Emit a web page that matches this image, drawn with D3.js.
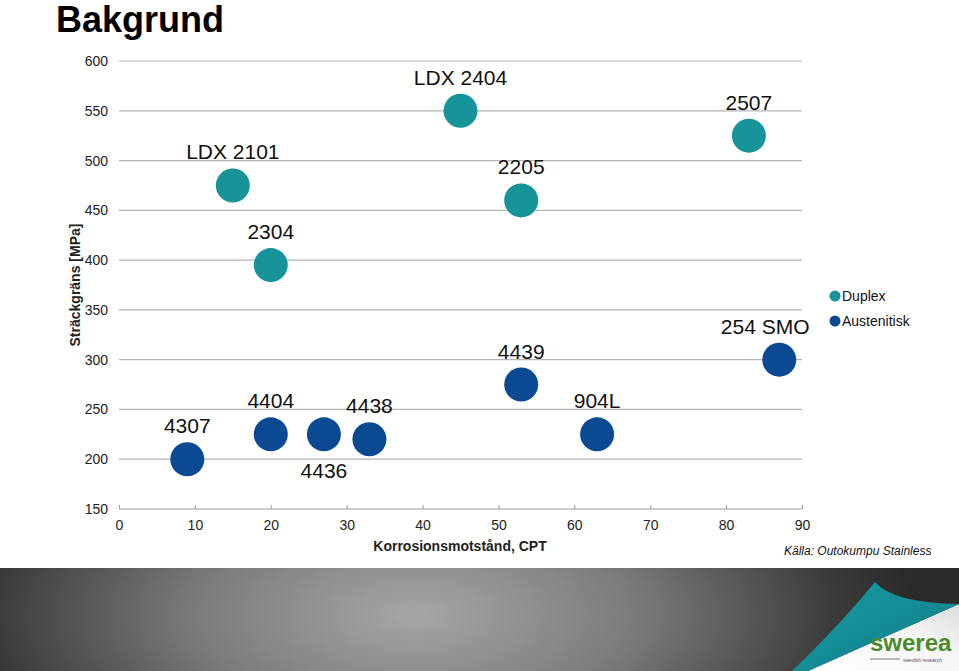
<!DOCTYPE html>
<html><head><meta charset="utf-8">
<script src="https://cdn.jsdelivr.net/npm/d3@7"></script>
<style>
html,body{margin:0;padding:0;background:#fff;}
svg{display:block;font-family:"Liberation Sans",Arial,sans-serif;}
</style></head>
<body>
<svg id="c" width="959" height="671"></svg>
<script>
// ---- data ----
const duplexNames = ["LDX 2101","2304","LDX 2404","2205","2507"];
const duplexCPT   = [15, 20, 45, 53, 83];
const duplexYield = [475, 395, 550, 460, 525];

const austNames = ["4307","4404","4436","4438","4439","904L","254 SMO"];
const austCPT   = [9, 20, 27, 33, 53, 63, 87];
const austYield = [200, 225, 225, 220, 275, 225, 300];
// label placement: above / below
const austLabelPos = ["above","above","below","above","above","above","above"];

const xTicks = [0,10,20,30,40,50,60,70,80,90];
const yTicks = [150,200,250,300,350,400,450,500,550,600];
const seriesNames = ["Duplex","Austenitisk"];
const colors = {"Duplex":"#17939a","Austenitisk":"#0b4a93"};

const svg = d3.select("#c");
const x = d3.scaleLinear().domain([0,90]).range([119,802]);
const y = d3.scaleLinear().domain([150,600]).range([509,61]);

// banner gradient
const defs = svg.append("defs");
const rg = defs.append("radialGradient").attr("id","bg")
  .attr("gradientUnits","userSpaceOnUse")
  .attr("cx",0).attr("cy",0).attr("r",500)
  .attr("gradientTransform","translate(415,615) scale(1,0.45)");
rg.append("stop").attr("offset",0).attr("stop-color","#a6a6a6");
rg.append("stop").attr("offset",0.45).attr("stop-color","#7a7a7a");
rg.append("stop").attr("offset",0.85).attr("stop-color","#3a3a3a");
rg.append("stop").attr("offset",1).attr("stop-color","#2b2b2b");
const tg = defs.append("linearGradient").attr("id","tg").attr("x1",0).attr("y1",0).attr("x2",1).attr("y2",1);
tg.append("stop").attr("offset",0).attr("stop-color","#1a9aa3");
tg.append("stop").attr("offset",1).attr("stop-color","#0f7f88");
const wg = defs.append("linearGradient").attr("id","wg").attr("x1",0).attr("y1",1).attr("x2",1).attr("y2",0);
wg.append("stop").attr("offset",0).attr("stop-color","#ffffff");
wg.append("stop").attr("offset",0.6).attr("stop-color","#f6f6f6");
wg.append("stop").attr("offset",1).attr("stop-color","#dcdcdc");

// title
svg.append("text").attr("x",56).attr("y",32).attr("font-size",36).attr("font-weight","bold")
  .attr("fill","#000").text("Bakgrund");

// gridlines
svg.append("g").selectAll("line").data(yTicks.filter(d=>d>150)).join("line")
  .attr("x1",x(0)).attr("x2",x(90)).attr("y1",d=>y(d)).attr("y2",d=>y(d))
  .attr("stroke","#b4b4b4").attr("stroke-width",1.2);

// y axis labels
const yAxis = d3.axisLeft(y).tickValues(yTicks).tickSize(0).tickPadding(11);
const gy = svg.append("g").attr("transform",`translate(${x(0)},0)`).call(yAxis);
gy.select(".domain").remove();
gy.selectAll("text").attr("font-size",14).attr("fill","#222").attr("font-family","Liberation Sans,Arial,sans-serif");

// x axis (line at 150 with ticks pointing up)
const xAxis = d3.axisTop(x).tickValues(xTicks).tickSize(4).tickFormat("");
const gx = svg.append("g").attr("transform",`translate(0,${y(150)})`).call(xAxis);
gx.select(".domain").attr("stroke","#9a9a9a").attr("stroke-width",1.2).attr("d",`M${x(0)},0H${x(90)}`);
gx.selectAll(".tick line").attr("stroke","#9a9a9a");
const xLab = d3.axisBottom(x).tickValues(xTicks).tickSize(0).tickPadding(11);
const gxl = svg.append("g").attr("transform",`translate(0,${y(150)})`).call(xLab);
gxl.select(".domain").remove();
gxl.selectAll("text").attr("font-size",14).attr("fill","#222").attr("font-family","Liberation Sans,Arial,sans-serif");

// axis titles
svg.append("text").attr("x",460).attr("y",551).attr("text-anchor","middle")
  .attr("font-size",14).attr("font-weight","bold").attr("fill","#222").text("Korrosionsmotstånd, CPT");
svg.append("text").attr("transform","translate(80,285) rotate(-90)").attr("text-anchor","middle")
  .attr("font-size",14).attr("font-weight","bold").attr("fill","#222").text("Sträckgräns [MPa]");

// points
const R = 17;
const duplex = duplexNames.map((n,i)=>({n, cx:duplexCPT[i], cy:duplexYield[i], pos:"above"}));
const aust = austNames.map((n,i)=>({n, cx:austCPT[i], cy:austYield[i], pos:austLabelPos[i]}));

function drawSeries(data, color){
  const g = svg.append("g");
  g.selectAll("circle").data(data).join("circle")
    .attr("cx",d=>x(d.cx)).attr("cy",d=>y(d.cy)).attr("r",R).attr("fill",color);
  g.selectAll("text").data(data).join("text")
    .attr("x",d=>x(d.cx) + (d.n==="254 SMO"?-14:0))
    .attr("y",d=>d.pos==="above"? y(d.cy)-26 : y(d.cy)+44)
    .attr("text-anchor","middle").attr("font-size",21).attr("fill","#111").text(d=>d.n);
}
drawSeries(duplex, colors.Duplex);
drawSeries(aust, colors.Austenitisk);

// legend
const lg = svg.append("g").attr("transform","translate(835,296)");
seriesNames.forEach((s,i)=>{
  lg.append("circle").attr("cx",0).attr("cy",i*25).attr("r",5.5).attr("fill",colors[s]);
  lg.append("text").attr("x",7).attr("y",i*25+5).attr("font-size",14).attr("fill","#111").text(s);
});

// source
svg.append("text").attr("x",784).attr("y",555).attr("font-size",12).attr("font-style","italic")
  .attr("fill","#111").text("Källa: Outokumpu Stainless");

// bottom banner
svg.append("rect").attr("x",0).attr("y",568).attr("width",959).attr("height",103).attr("fill","url(#bg)");
// page curl
svg.append("path").attr("d","M959,604 L959,671 L808,671 Z").attr("fill","url(#wg)");
svg.append("path").attr("d","M875,582 Q893,603 959,604 L808,671 L792,671 Q840,625 875,582 Z").attr("fill","url(#tg)");
// logo
svg.append("text").attr("x",870).attr("y",651).attr("font-size",24).attr("font-weight","bold").attr("fill","#4e8a2c")
  .attr("font-family","Liberation Sans,Arial,sans-serif").text("swerea");
svg.append("line").attr("x1",870).attr("x2",900).attr("y1",659).attr("y2",659).attr("stroke","#777").attr("stroke-width",1);
svg.append("text").attr("x",903).attr("y",662).attr("font-size",5).attr("fill","#555").text("swedish research");
</script>
</body></html>
